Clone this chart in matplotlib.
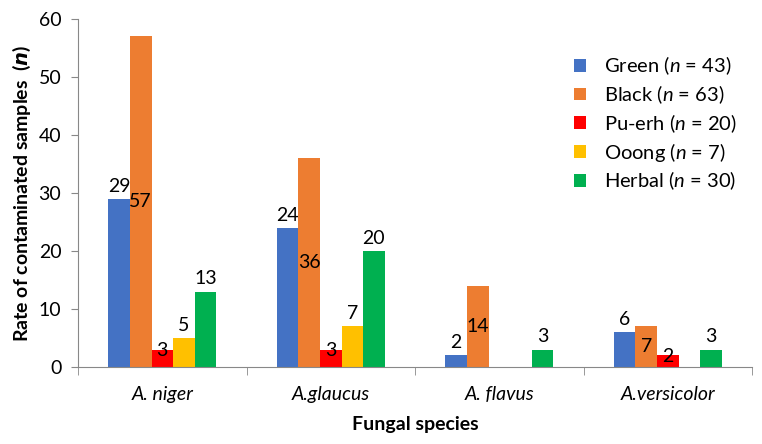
import matplotlib.pyplot as plt
import numpy as np

plt.rcParams['font.family'] = ['Lato', 'DejaVu Sans']
plt.rcParams['mathtext.fontset'] = 'custom'
plt.rcParams['mathtext.it'] = 'Lato:italic'
plt.rcParams['mathtext.rm'] = 'Lato'
plt.rcParams['mathtext.bf'] = 'Lato:bold'

species = ['A. niger', 'A.glaucus', 'A. flavus', 'A.versicolor']
series = ['Green ($n$ = 43)', 'Black ($n$ = 63)', 'Pu-erh ($n$ = 20)',
          'Ooong ($n$ = 7)', 'Herbal ($n$ = 30)']
green = [29, 24, 2, 6]
black = [57, 36, 14, 7]
puerh = [3, 3, 0, 2]
ooong = [5, 7, 0, 0]
herbal = [13, 20, 3, 3]
colors = ['#4472C4', '#ED7D31', '#FF0000', '#FFC000', '#00B050']

values = [green, black, puerh, ooong, herbal]

fig = plt.figure(figsize=(7.62, 4.44), dpi=100)
ax = fig.add_axes([0.1024, 0.1734, 0.8846, 0.7838])

x = np.arange(len(species))
w = 0.128
for i, (vals, lab, col) in enumerate(zip(values, series, colors)):
    pos = x + (i - 2) * w
    ax.bar(pos, vals, width=w, color=col, label=lab)
    for p, v in zip(pos, vals):
        if v == 0:
            continue
        if i == 1:
            # black labels sit in the middle of the bar
            ax.text(p, v / 2, str(v), ha='center', va='center', fontsize=14)
        elif i == 2:
            ax.annotate(str(v), (p, v), xytext=(0, -1), textcoords='offset points',
                        ha='center', va='center', fontsize=14)
        else:
            ax.annotate(str(v), (p, v), xytext=(0, 3), textcoords='offset points',
                        ha='center', va='bottom', fontsize=14)

ax.set_xlim(-0.5, 3.5)
ax.set_ylim(0, 60)
ax.set_yticks(range(0, 61, 10))
ax.set_xticks(x)
ax.set_xticklabels(species, fontstyle='italic')
ax.set_xticks(np.arange(-0.5, 4, 1), minor=True)
ax.tick_params(axis='x', which='major', length=0, labelsize=14, pad=14)
ax.tick_params(axis='x', which='minor', length=6, color='#888888', direction='out')
ax.tick_params(axis='y', length=5, color='#888888', labelsize=14, pad=7)

for s in ['top', 'right']:
    ax.spines[s].set_visible(False)
for s in ['left', 'bottom']:
    ax.spines[s].set_color('#888888')

ax.set_ylabel('Rate of contaminated samples  ($\\mathbfit{n}$)', fontsize=14,
              fontweight='bold', labelpad=4)
ax.set_xlabel('Fungal species', fontsize=14, fontweight='bold', labelpad=9)

ax.legend(loc='upper right', bbox_to_anchor=(1.005, 0.95), frameon=False,
          fontsize=14.5, handlelength=0.6, handleheight=0.6, labelspacing=0.3,
          handletextpad=0.9)

fig.savefig('out.png', dpi=100)
